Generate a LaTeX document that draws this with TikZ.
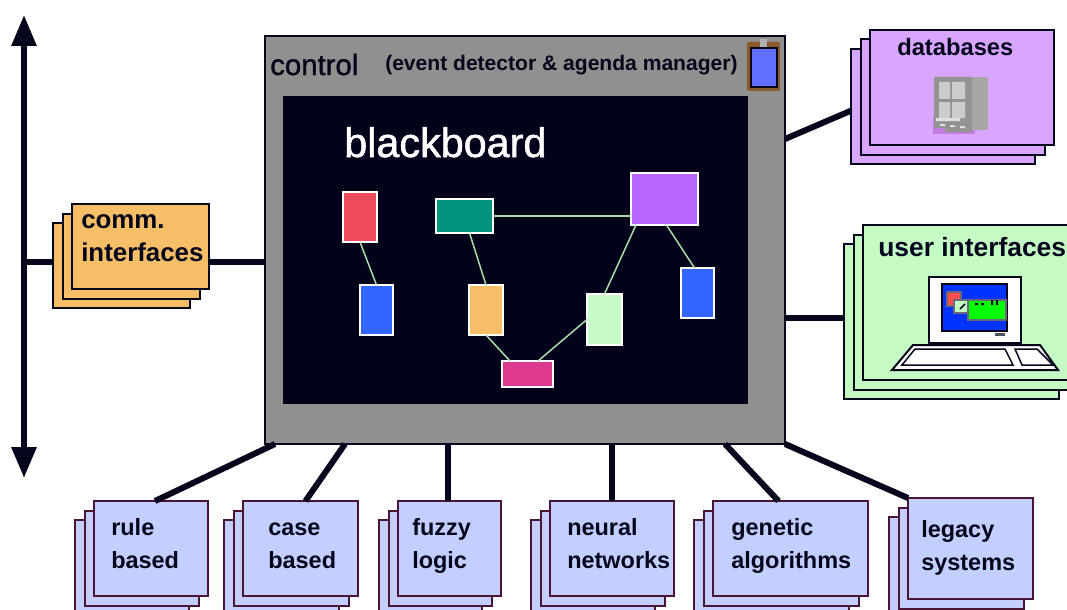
\documentclass[tikz,border=0pt]{standalone}
\usepackage{fontspec}
\setmainfont{Liberation Sans}
\newfontfamily\thickfont[FakeBold=1.3]{Liberation Sans}
\usetikzlibrary{arrows.meta}
\usetikzlibrary{shadows,backgrounds}
\newcommand{\px}{0.75pt}
\definecolor{inkdark}{HTML}{05051C}
\definecolor{maroon}{HTML}{4A1436}
\definecolor{panelgray}{HTML}{909090}
\definecolor{boardblack}{HTML}{02021A}
\definecolor{wireGreen}{HTML}{A8DCA8}
\definecolor{commOrange}{HTML}{F6BE66}
\definecolor{dbPurple}{HTML}{D8A6FF}
\definecolor{uiGreen}{HTML}{C4FBC4}
\definecolor{kbBlue}{HTML}{C2CFFF}
\definecolor{clipBrown}{HTML}{8A5A2A}
\definecolor{clipBlue}{HTML}{6070FF}
\begin{document}
\begin{tikzpicture}[
		x=0.75pt, y=-0.75pt,
		stack/.style = {rectangle, draw=#1, line width=2*\px, anchor=north west,
			outer sep=0pt, inner sep=0pt,
			double copy shadow={shadow xshift=-9.5*\px, shadow yshift=-9.5*\px}},% three sheets
		stack/.default=inkdark,
		link/.style = {line width=6*\px, draw=inkdark},
		item/.style = {rectangle, draw=white, line width=1.5*\px, anchor=north west,
			outer sep=0pt, inner sep=0pt},
		wire/.style = {draw=wireGreen, line width=1.5*\px},
		txt/.style = {anchor=base west, align=left, inner sep=0pt, text=inkdark, font=\bfseries},
		]
		\useasboundingbox (0,0) rectangle (1067,610);
		\clip (0,0) rectangle (1067,610);
		% control and blackboard
		\node[rectangle, draw=inkdark, fill=panelgray, line width=2*\px, anchor=north west,
			outer sep=0pt, minimum width=520*\px, minimum height=408*\px] (control) at (265,36) {};
		\node[rectangle, fill=boardblack, anchor=north west, outer sep=0pt,
			minimum width=465*\px, minimum height=308*\px] (board) at (283,96) {};
		\node[anchor=base west, inner sep=0pt, text=inkdark, font=\thickfont\fontsize{22}{24}\selectfont] (ctltitle) at (270,75) {control};
		\node[txt, font=\bfseries\fontsize{15.8}{18}\selectfont] (ctlnote) at (385,70) {(event detector \& agenda manager)};
		\node[anchor=base west, inner sep=0pt, text=white, font=\thickfont\fontsize{31}{34}\selectfont] (boardtitle) at (344,157) {blackboard};
		% clipboard
		\node[rectangle, fill=clipBrown, rounded corners=2*\px, anchor=north west, outer sep=0pt,
			minimum width=33*\px, minimum height=49*\px] (clipback) at (747,42) {};
		\node[rectangle, fill=clipBlue, draw=inkdark, line width=1.5*\px, anchor=north west, outer sep=0pt,
			minimum width=26*\px, minimum height=39*\px] (clippaper) at (751,48) {};
		\fill[gray!60] (760,39) rectangle (767,47);
		% items on the board: name/x/y/w/h/colour
		\foreach \n/\x/\y/\w/\h/\c in {
			red/343/192/34/50/EE4B5E, blueA/360/285/33/50/3366FF,
			teal/436/199/57/34/00917F, purple/631/173/67/52/B966FF,
			orange/469/285/34/50/F6BE66, pale/587/294/35/51/C8FBC8,
			pink/502/361/51/26/DD3A8F, blueB/681/268/33/50/3366FF}
		{
			\definecolor{itemcol}{HTML}{\c}
			\node[item, fill=itemcol, minimum width=\w*\px, minimum height=\h*\px] (\n) at (\x,\y) {};
		}
		\draw[wire] (red.south) -- (blueA.north);
		\draw[wire] ([xshift=5*\px]teal.south) -- (orange.north);
		\draw[wire] (teal.east) -- (teal.east -| purple.west);
		\draw[wire] (orange.south) -- ([xshift=8*\px]pink.north west);
		\draw[wire] ([xshift=-15*\px]pink.north east) -- (pale.west);
		\draw[wire] (pale.north) -- ([xshift=5*\px]purple.south west);
		\draw[wire] ([xshift=2*\px]purple.south) -- ([xshift=-3*\px]blueB.north);
		% knowledge sources along the bottom
		\foreach \n/\x/\y/\w/\h/\tx/\ty/\t in {
			rule/94/501/114/95/111/568/{rule\\based},
			case/243/501/115/95/268/568/{case\\based},
			fuzzy/398/501/103/95/412/568/{fuzzy\\logic},
			neural/550/501/124/95/567/568/{neural\\networks},
			genetic/713/501/155/95/731/568/{genetic\\algorithms},
			legacy/908/498/125/101/921/570/{legacy\\systems}}
		{
			\node[stack=maroon, fill=kbBlue, minimum width=\w*\px, minimum height=\h*\px] (\n) at (\x,\y) {};
			\node[txt, font=\bfseries\fontsize{17.6}{24.75}\selectfont] (\n-txt) at (\tx,\ty) {\t};
		}
		% stacks at the sides
		\node[stack, fill=commOrange, minimum width=137*\px, minimum height=85*\px] (comm) at (72,204) {};
		\node[txt, font=\bfseries\fontsize{19.4}{24.75}\selectfont] (comm-txt) at (81,261) {comm.\\interfaces};
		\node[stack, fill=dbPurple, minimum width=184*\px, minimum height=115*\px] (db) at (870,30) {};
		\node[txt, font=\bfseries\fontsize{17.8}{20}\selectfont] (db-txt) at (897,56) {databases};
		\node[stack, fill=uiGreen, minimum width=215*\px, minimum height=155*\px] (ui) at (863,225) {};
		\node[txt, font=\bfseries\fontsize{19.8}{22}\selectfont] (ui-txt) at (878,256) {user interfaces};
		% server cabinet
		\fill[dbPurple!75!violet] (933,118) rectangle (975,134);
		\fill[gray!85] (934,77) rectangle (972,128) (945,128) rectangle (972,132);
		\fill[gray!70] (972,77) rectangle (988,130);
		\fill[gray!40] (939,82) rectangle (950,99) (952,82) rectangle (965,99)
			(939,102) rectangle (950,118) (952,102) rectangle (965,118);
		\fill[gray!25] (936,118) rectangle (960,121) (940,124) rectangle (945,126)
			(950,125) rectangle (955,127) (960,126) rectangle (965,128);
		% terminal
		\draw[fill=white, draw=inkdark, line width=2*\px] (929,277) rectangle (1021,343);
		\fill[blue!80!cyan, draw=inkdark, line width=1.5*\px] (942,284) rectangle (1007,331);
		\draw[fill=red!70!white, draw=inkdark!60, line width=1.2*\px] (947,292) rectangle (961,306);
		\draw[fill=green, draw=inkdark!60, line width=1.2*\px] (968,300) rectangle (1006,320);
		\draw[fill=uiGreen, draw=inkdark!60, line width=1.2*\px] (954,300) rectangle (968,313);
		\draw[inkdark, line width=1.5*\px] (960,309) -- (965,304);
		\fill[inkdark] (975,303) rectangle (978,305) (981,303) rectangle (984,305)
			(991,300) rectangle (993,305) (996,300) rectangle (998,305);
		\fill[inkdark!70] (995,333) rectangle (1005,336);
		\draw[fill=white, draw=inkdark, line width=2*\px] (892,370) -- (913,345) -- (1040,345) -- (1058,370) -- cycle;
		\draw[fill=white, draw=inkdark, line width=1.5*\px] (902,365) -- (915,349) -- (1005,349) -- (1013,365) -- cycle;
		\draw[fill=white, draw=inkdark, line width=1.5*\px] (1022,365) -- (1015,349) -- (1037,349) -- (1053,365) -- cycle;
		% bus and connectors
		\coordinate (bustop) at (24,15);
		\coordinate (busbot) at (24,478);
		\coordinate (bus) at (24,262);
		\draw[link, {Triangle[length=31*\px,width=24*\px]}-{Triangle[length=31*\px,width=24*\px]}] (bustop) -- (busbot);
		\begin{scope}[on background layer]
			\draw[link] (bus) -- (bus -| comm.west);
			\draw[link] (bus -| comm.east) -- (bus -| control.west);
			\draw[link] ([yshift=101*\px]control.east) -- ([yshift=-15*\px]db.west);
			\draw[link] ([yshift=-78*\px]control.east) -- ([yshift=-78*\px]control.east -| ui.west);
		\end{scope}
		\draw[link] ([xshift=10*\px]control.south west) -- ([xshift=4*\px]rule.north);
		\draw[link] ([xshift=80*\px]control.south west) -- ([xshift=5*\px]case.north);
		\draw[link] ([xshift=-1.5*\px]fuzzy.north) -- ([xshift=-1.5*\px]fuzzy.north |- control.south);
		\draw[link] (neural.north) -- (neural.north |- control.south);
		\draw[link] ([xshift=-60*\px]control.south east) -- ([xshift=-12*\px]genetic.north);
		\draw[link] (control.south east) -- (legacy.north west);
	\end{tikzpicture}
\end{document}
